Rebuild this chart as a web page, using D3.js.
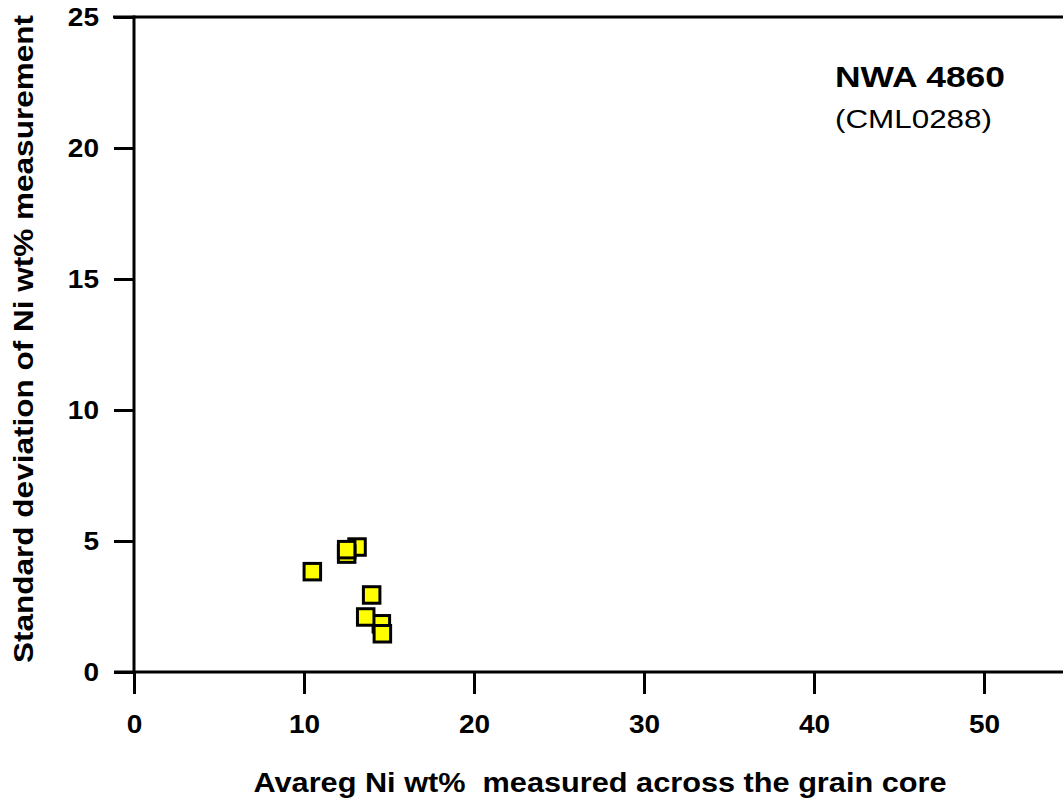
<!DOCTYPE html>
<html><head><meta charset="utf-8">
<script src="https://cdn.jsdelivr.net/npm/d3@7"></script>
<style>
html,body{margin:0;padding:0;background:#fff;}
svg{display:block;}
text{font-family:"Liberation Sans",Arial,sans-serif;fill:#000;}
</style></head>
<body>
<svg id="c" width="1063" height="801"></svg>
<script>
const xTicks = [0, 10, 20, 30, 40, 50];
const yTicks = [0, 5, 10, 15, 20, 25];
const avgNi = [13.12, 12.51, 12.51, 10.49, 13.98, 14.55, 13.63, 14.61];
const sdNi  = [4.77, 4.50, 4.67, 3.83, 2.94, 1.84, 2.10, 1.46];
const xTitle = "Avareg Ni wt%  measured across the grain core";
const yTitle = "Standard deviation of Ni wt% measurement";
const titleMain = "NWA 4860";
const titleSub = "(CML0288)";

const svg = d3.select("#c");
const W = 1063;
const SX = 1.12;
const x = d3.scaleLinear().domain([0, 50]).range([134, 984]);
const y = d3.scaleLinear().domain([0, 25]).range([672, 17]);

// frame lines
svg.append("line").attr("x1", 113).attr("x2", W).attr("y1", y(25)).attr("y2", y(25))
  .attr("stroke", "#000").attr("stroke-width", 3);
svg.append("line").attr("x1", 114).attr("x2", W).attr("y1", y(0)).attr("y2", y(0))
  .attr("stroke", "#000").attr("stroke-width", 3);
svg.append("line").attr("x1", x(0)).attr("x2", x(0)).attr("y1", y(25) - 1.5).attr("y2", y(0))
  .attr("stroke", "#000").attr("stroke-width", 3);

// x axis
const gx = svg.append("g").attr("transform", `translate(0,${y(0)})`)
  .call(d3.axisBottom(x).tickValues(xTicks).tickSize(22).tickPadding(21).tickSizeOuter(0));
gx.select(".domain").remove();
gx.selectAll(".tick line").attr("stroke", "#000").attr("stroke-width", 3);
gx.selectAll(".tick text").attr("font-size", 25).attr("font-weight", "bold")
  .attr("font-family", "Liberation Sans, Arial, sans-serif")
  .attr("transform", `scale(${SX},1)`);

// y axis
const gy = svg.append("g").attr("transform", `translate(${x(0)},0)`)
  .call(d3.axisLeft(y).tickValues(yTicks).tickSize(20).tickPadding(15).tickSizeOuter(0));
gy.select(".domain").remove();
gy.selectAll(".tick line").attr("stroke", "#000").attr("stroke-width", 3);
gy.selectAll(".tick text").attr("font-size", 25).attr("font-weight", "bold")
  .attr("font-family", "Liberation Sans, Arial, sans-serif")
  .attr("x", -35 / SX).attr("transform", `scale(${SX},1)`);

// points
svg.append("g").selectAll("rect").data(avgNi.map((v, i) => [v, sdNi[i]])).join("rect")
  .attr("x", d => x(d[0]) - 8.25).attr("y", d => y(d[1]) - 8.25)
  .attr("width", 16.5).attr("height", 16.5)
  .attr("fill", "#ffff00").attr("stroke", "#000").attr("stroke-width", 3);

// axis titles
svg.append("text").attr("x", 600).attr("y", 792).attr("text-anchor", "middle")
  .attr("font-size", 28).attr("font-weight", "bold")
  .attr("textLength", 693).attr("lengthAdjust", "spacingAndGlyphs")
  .style("white-space", "pre").text(xTitle);
svg.append("text").attr("transform", "translate(33,339) rotate(-90)").attr("text-anchor", "middle")
  .attr("font-size", 27).attr("font-weight", "bold")
  .attr("textLength", 648).attr("lengthAdjust", "spacingAndGlyphs")
  .text(yTitle);

// annotation
svg.append("text").attr("x", 835).attr("y", 87).attr("font-size", 30).attr("font-weight", "bold")
  .attr("textLength", 170).attr("lengthAdjust", "spacingAndGlyphs").text(titleMain);
svg.append("text").attr("x", 835).attr("y", 128).attr("font-size", 25)
  .attr("textLength", 157).attr("lengthAdjust", "spacingAndGlyphs").text(titleSub);
</script>
</body></html>
